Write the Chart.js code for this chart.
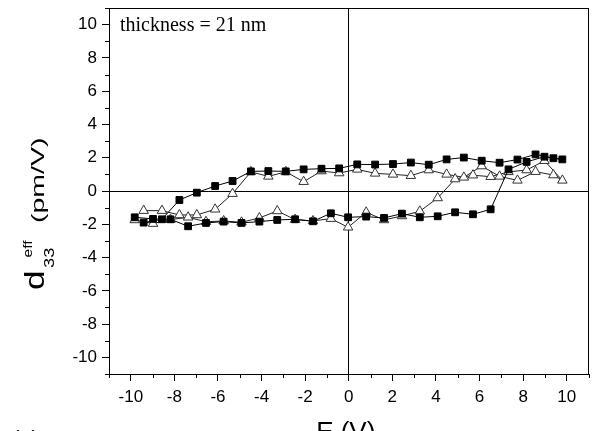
<!DOCTYPE html>
<html>
<head>
<meta charset="utf-8">
<script src="https://cdn.jsdelivr.net/npm/chart.js@4.4.1/dist/chart.umd.min.js"></script>
<style>
    html, body { margin: 0; padding: 0; background: #fff; }
    #wrap { width: 595px; height: 431px; position: relative; }
</style>
</head>
<body>
<div id="wrap"><canvas id="chart" width="595" height="431"></canvas></div>
<script>
// 扫描电压：先从 -10 V 升到 +10 V（下支），再从 +10 V 降回 -10 V（上支）
const biasV = [
    -9.82, -8.98, -8.18, -7.37, -6.55, -5.74, -4.92, -4.10, -3.28, -2.46, -1.64, -0.82,
    -0.03, 0.80, 1.62, 2.44, 3.26, 4.08, 4.88, 5.70, 6.51, 7.33, 8.16, 8.98, 9.80,
    9.39, 8.57, 7.74, 6.92, 6.10, 5.28, 4.49, 3.67, 2.85, 2.03, 1.21, 0.39,
    -0.44, -1.25, -2.07, -2.89, -3.69, -4.49, -5.33, -6.13, -6.97, -7.77, -8.57, -9.41
];

// 实心方块
const squareD = [
    -1.58, -1.68, -1.70, -2.12, -1.92, -1.84, -1.92, -1.84, -1.74, -1.70, -1.82, -1.34,
    -1.58, -1.54, -1.62, -1.36, -1.58, -1.52, -1.28, -1.40, -1.10, 1.30, 1.75, 2.06, 1.90,
    1.97, 2.20, 1.89, 1.70, 1.82, 2.01, 1.90, 1.58, 1.71, 1.62, 1.59, 1.60,
    1.36, 1.34, 1.30, 1.18, 1.20, 1.18, 0.60, 0.30, -0.10, -0.54, -1.70, -1.90
];

// 空心三角
const triangleD = [
    -1.74, -1.96, -1.72, -1.58, -1.85, -1.80, -1.88, -1.62, -1.20, -1.72, -1.80, -1.66,
    -2.18, -1.28, -1.74, -1.50, -1.22, -0.42, 0.72, 0.95, 0.86, 1.15, 1.26, 1.82, 0.64,
    0.96, 1.16, 0.64, 0.88, 1.50, 0.82, 1.00, 1.26, 0.92, 1.00, 1.06, 1.30,
    1.08, 1.20, 0.56, 1.15, 0.88, 1.15, -0.16, -1.10, -1.44, -1.44, -1.18, -1.18
];

const xTitle = 'E (V)';
const noteText = 'thickness = 21 nm';
const panelLabel = '(a)';

const SANS = '"Liberation Sans", Arial, sans-serif';
const SERIF = '"Liberation Serif", "Times New Roman", serif';

const toPoints = (ys) => biasV.map((v, i) => ({ x: v, y: ys[i] }));

// 偶数刻度带标签，奇数刻度为短的次刻度
const majorLabel = (value) => (value % 2 === 0 && Math.abs(value) <= 10) ? String(value) : '';

// 轴的尺寸固定，去掉首尾标签带来的额外留白
const fixAxis = (size) => (scale) => {
    if (scale.isHorizontal()) scale.height = size; else scale.width = size;
    scale.paddingTop = 0;
    scale.paddingBottom = 0;
    scale.paddingLeft = 0;
    scale.paddingRight = 0;
};

// 坐标轴外框、次刻度、轴标题和注释
const decorPlugin = {
    id: 'decor',
    afterDraw(chart) {
        const { ctx, chartArea: a, scales } = chart;
        ctx.save();
        ctx.strokeStyle = '#000';
        ctx.lineWidth = 1;
        ctx.strokeRect(Math.round(a.left) + 0.5, Math.round(a.top) + 0.5,
            Math.round(a.right - a.left) - 1, Math.round(a.bottom - a.top));

        // 次刻度
        ctx.beginPath();
        for (let v = -11; v <= 11; v++) {
            if (v % 2 === 0) continue;
            const y = Math.round(scales.y.getPixelForValue(v)) + 0.5;
            ctx.moveTo(a.left - 4, y);
            ctx.lineTo(a.left, y);
            const x = Math.round(scales.x.getPixelForValue(v)) + 0.5;
            ctx.moveTo(x, a.bottom);
            ctx.lineTo(x, a.bottom + 4);
        }
        ctx.stroke();

        ctx.fillStyle = '#000';

        // 注释
        ctx.font = '20px ' + SERIF;
        ctx.textAlign = 'left';
        ctx.textBaseline = 'alphabetic';
        ctx.fillText(noteText, 120, 31);

        // x 轴标题（下半部分被裁掉）
        ctx.font = '26px ' + SANS;
        ctx.textAlign = 'center';
        ctx.fillText(xTitle, (a.left + a.right) / 2 - 3, 440);

        ctx.font = '22px ' + SANS;
        ctx.textAlign = 'left';
        ctx.fillText(panelLabel, 12, 446);

        // y 轴标题：d_33^eff (pm/V)
        ctx.translate(44, 290);
        ctx.rotate(-Math.PI / 2);
        ctx.textAlign = 'left';
        ctx.save();
        ctx.scale(1.3, 1);
        ctx.font = '27px ' + SANS;
        ctx.fillText('d', 0, 0);
        ctx.font = '14px ' + SANS;
        ctx.fillText('33', 17, 10);
        ctx.font = '12px ' + SANS;
        ctx.fillText('eff', 25, -12);
        ctx.restore();
        ctx.save();
        ctx.scale(1.5, 1);
        ctx.font = '19px ' + SANS;
        ctx.fillText('(pm/V)', 67 / 1.5, 0);
        ctx.restore();

        ctx.restore();
    }
};

const axisCommon = {
    type: 'linear',
    min: -11,
    max: 11,
    border: { display: true, color: '#000', width: 1 },
    grid: {
        drawTicks: true,
        tickLength: 7,
        color: (c) => (c.tick && c.tick.value === 0) ? '#000' : 'rgba(0,0,0,0)',
        tickColor: (c) => (c.tick && c.tick.value % 2 === 0) ? '#000' : 'rgba(0,0,0,0)',
        lineWidth: 1
    }
};

const chart = new Chart(document.getElementById('chart'), {
    type: 'scatter',
    data: {
        datasets: [
            {
                label: 'squares',
                data: toPoints(squareD),
                showLine: true,
                borderColor: '#000',
                borderWidth: 1,
                backgroundColor: '#000',
                pointStyle: 'rect',
                pointRadius: 4.8,
                pointBorderWidth: 1,
                pointBorderColor: '#000',
                pointBackgroundColor: '#000'
            },
            {
                label: 'triangles',
                data: toPoints(triangleD),
                showLine: true,
                borderColor: '#222',
                borderWidth: 1,
                backgroundColor: '#fff',
                pointStyle: 'triangle',
                pointRadius: 5.5,
                pointBorderWidth: 1,
                pointBorderColor: '#333',
                pointBackgroundColor: '#fff'
            }
        ]
    },
    options: {
        responsive: false,
        animation: false,
        devicePixelRatio: 1,
        layout: { padding: { top: 8, right: 3, left: 0, bottom: 0 } },
        plugins: {
            legend: { display: false },
            tooltip: { enabled: false }
        },
        scales: {
            x: {
                ...axisCommon,
                position: 'bottom',
                afterFit: fixAxis(57),
                ticks: {
                    stepSize: 1,
                    autoSkip: false,
                    maxRotation: 0,
                    padding: 6,
                    color: '#000',
                    font: { family: SANS, size: 17 },
                    callback: majorLabel
                }
            },
            y: {
                ...axisCommon,
                position: 'left',
                afterFit: fixAxis(109),
                ticks: {
                    stepSize: 1,
                    autoSkip: false,
                    padding: 5,
                    color: '#000',
                    font: { family: SANS, size: 17 },
                    callback: majorLabel
                }
            }
        }
    },
    plugins: [decorPlugin]
});
</script>
</body>
</html>
